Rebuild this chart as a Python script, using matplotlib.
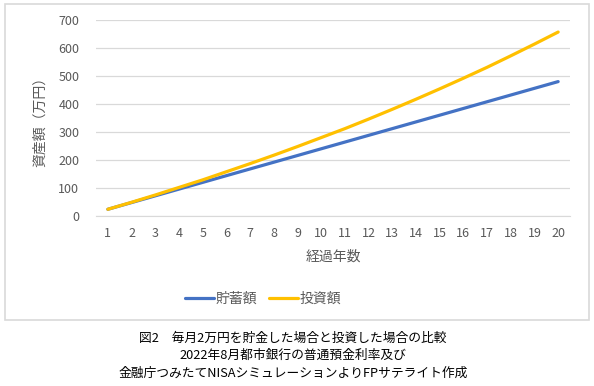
import matplotlib
matplotlib.use("Agg")
import matplotlib.pyplot as plt
from matplotlib.patches import Rectangle

plt.rcParams['font.family'] = ['Noto Sans CJK JP', 'DejaVu Sans']

years = list(range(1, 21))
savings = [24, 48, 72, 96, 120, 144, 168, 192, 216, 240,
           264, 288, 312, 336, 360, 384, 408, 432, 456, 480]
invest = [24, 49, 75, 102, 129, 158, 187, 217, 248, 280,
          312, 346, 381, 417, 454, 492, 531, 572, 614, 657]

GRAY = "#595959"

fig = plt.figure(figsize=(5.94, 3.86), dpi=100)
ax = fig.add_axes([96/594, 1-216/386, 474/594, 196/386])

ax.plot(years, savings, color="#4472C4", lw=2.3, label="貯蓄額", solid_capstyle="round")
ax.plot(years, invest, color="#FFC000", lw=2.3, label="投資額", solid_capstyle="round")

ax.set_xlim(0.5, 20.5)
ax.set_ylim(0, 700)
ax.set_yticks(range(0, 701, 100))
ax.set_xticks(years)
ax.grid(axis="y", color="#D9D9D9", lw=0.9)
ax.set_axisbelow(True)
for s in ax.spines.values():
    s.set_visible(False)
ax.spines["bottom"].set_visible(True)
ax.spines["bottom"].set_color("#D9D9D9")
ax.tick_params(length=0, labelsize=9, labelcolor=GRAY)
ax.tick_params(axis="y", pad=12)
ax.tick_params(axis="x", pad=8)

ax.set_xlabel("経過年数", fontsize=10, color=GRAY, labelpad=7)
ax.set_ylabel("資産額（万円）", fontsize=10, color=GRAY, labelpad=8)

ax.legend(loc="center", bbox_to_anchor=(263/594, 1-299/386), bbox_transform=fig.transFigure,
          ncol=2, frameon=False, fontsize=10, labelcolor=GRAY, handlelength=2.15,
          handletextpad=0.1, columnspacing=0.8)

fig.patches.append(Rectangle((5/594, 1-320/386), 584/594, 316/386, transform=fig.transFigure,
                             fill=False, edgecolor="#D9D9D9", lw=1.2))

caption = ["図2　毎月2万円を貯金した場合と投資した場合の比較",
           "2022年8月都市銀行の普通預金利率及び",
           "金融庁つみたてNISAシミュレーションよりFPサテライト作成"]
for i, line in enumerate(caption):
    fig.text(293/594, 1-(338 + 17.5*i)/386, line, ha="center", va="center",
             fontsize=9.2, color="black")

fig.savefig("out.png", dpi=100)
